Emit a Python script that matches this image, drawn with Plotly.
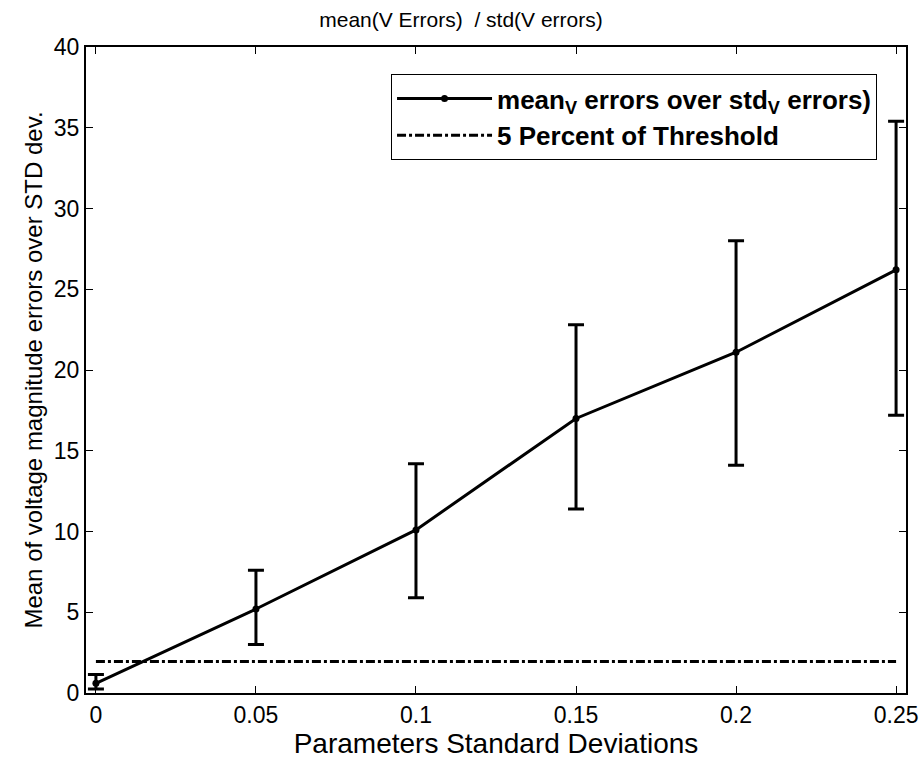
import plotly.graph_objects as go

x_vals = [0, 0.05, 0.1, 0.15, 0.2, 0.25]
mean_vals = [0.6, 5.2, 10.1, 17.0, 21.1, 26.2]
upper_vals = [1.15, 7.6, 14.2, 22.8, 28.0, 35.4]
lower_vals = [0.25, 3.0, 5.9, 11.4, 14.1, 17.2]
threshold_x = [0, 0.25]
threshold_y = [1.95, 1.95]

err_plus = [u - m for u, m in zip(upper_vals, mean_vals)]
err_minus = [m - l for m, l in zip(mean_vals, lower_vals)]

font = "Liberation Sans, Arial, sans-serif"

fig = go.Figure()
fig.add_trace(go.Scatter(
    x=x_vals, y=mean_vals, mode="lines+markers",
    name="<b>mean<sub>V</sub> errors over std<sub>V</sub> errors)</b>",
    line=dict(color="black", width=3),
    marker=dict(color="black", size=7),
    error_y=dict(type="data", symmetric=False, array=err_plus, arrayminus=err_minus,
                 color="black", thickness=3, width=8),
))
fig.add_trace(go.Scatter(
    x=threshold_x, y=threshold_y, mode="lines",
    name="<b>5 Percent of Threshold</b>",
    line=dict(color="black", width=3, dash="dashdot"),
))

axis_common = dict(
    showline=True, linecolor="black", linewidth=2, mirror="ticks",
    ticks="inside", ticklen=7, tickwidth=1, tickcolor="black",
    showgrid=False, zeroline=False, automargin=False,
    tickfont=dict(family=font, size=23, color="black"),
)

fig.update_layout(
    width=922, height=760,
    margin=dict(l=86, r=16, t=47, b=67),
    paper_bgcolor="white", plot_bgcolor="white",
    font=dict(family=font, color="black"),
    title=dict(text="mean(V Errors)  / std(V errors)", x=0.5, xanchor="center",
               y=0.974, yanchor="middle", font=dict(family=font, size=21, color="black")),
    xaxis=dict(range=[-0.0031, 0.2531], tickvals=[0, 0.05, 0.1, 0.15, 0.2, 0.25],
               ticktext=["0", "0.05", "0.1", "0.15", "0.2", "0.25"],
               title=dict(text="Parameters Standard Deviations", font=dict(family=font, size=28), standoff=2),
               **axis_common),
    yaxis=dict(range=[0, 40], tickvals=[0, 5, 10, 15, 20, 25, 30, 35, 40],
               title=dict(text="Mean of voltage magnitude errors over STD dev.", font=dict(family=font, size=24), standoff=4),
               **axis_common),
    legend=dict(x=0.372, y=0.958, xanchor="left", yanchor="top",
                bgcolor="white", bordercolor="black", borderwidth=1,
                font=dict(family=font, size=26, color="black"),
                itemwidth=95, tracegroupgap=12),
    showlegend=True,
)

fig.write_html("out.html")
